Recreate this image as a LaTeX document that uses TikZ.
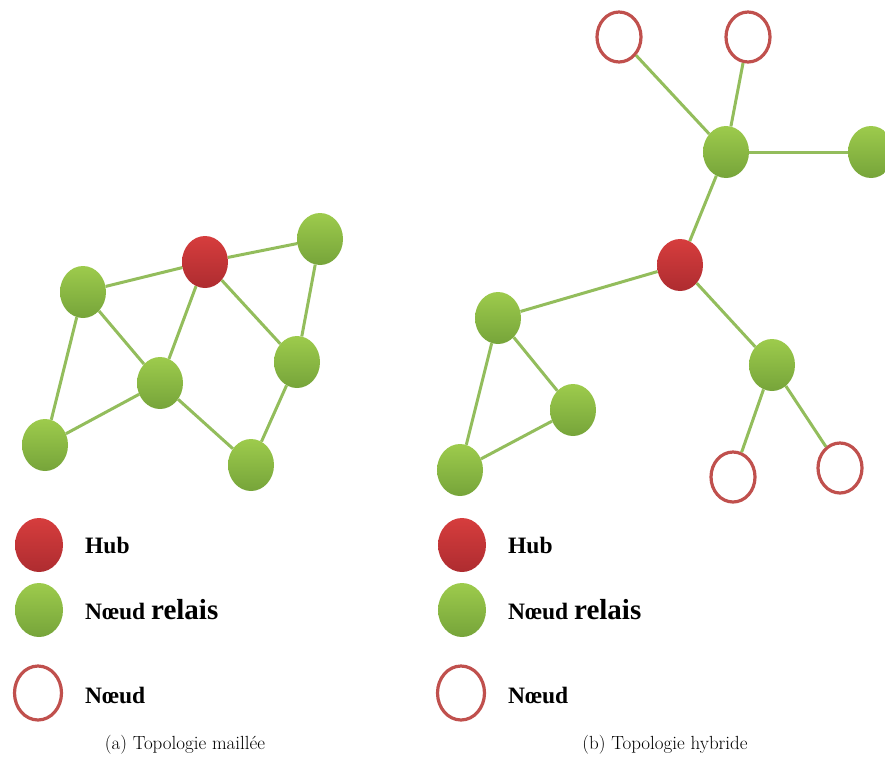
\documentclass[tikz,border=0pt]{standalone}
\usepackage{fontspec}
\newfontfamily\legfont{Liberation Serif}
\usetikzlibrary{shapes.geometric}
\definecolor{edgegreen}{HTML}{93BD5C}
\definecolor{gtop}{HTML}{9DCB4C}
\definecolor{gbot}{HTML}{76A43A}
\definecolor{rtop}{HTML}{D63D3D}
\definecolor{rbot}{HTML}{AE2C30}
\definecolor{ring}{HTML}{C0504D}
\tikzset{
  base/.style={ellipse, inner sep=0pt, minimum width=46pt, minimum height=52pt},
  relay/.style={base, top color=gtop, bottom color=gbot, draw=none},
  hub/.style={base, top color=rtop, bottom color=rbot, draw=none},
  leaf/.style={base, draw=ring, line width=3.2pt, fill=white, minimum width=44pt, minimum height=50pt},
  link/.style={draw=edgegreen, line width=3pt},
  legtext/.style={anchor=west, inner sep=0pt, font=\legfont\bfseries\fontsize{23.5}{25}\selectfont},
  caption/.style={font=\fontsize{19}{22}\selectfont, inner sep=0pt}
}
\begin{document}
\begin{tikzpicture}[x=1pt,y=-1pt]
\useasboundingbox (0,0) rectangle (885,766);
\clip (0,0) rectangle (885,766);
% ---- (a) mesh ----
\node[relay] (a1) at (83,292) {};
\node[hub]   (ah) at (205,262) {};
\node[relay] (a2) at (320,239) {};
\node[relay] (a3) at (160,383) {};
\node[relay] (a4) at (297,362) {};
\node[relay] (a5) at (45,445) {};
\node[relay] (a6) at (251,465) {};
\draw[link] (a1) -- (ah);
\draw[link] (ah) -- (a2);
\draw[link] (a1) -- (a3);
\draw[link] (a1) -- (a5);
\draw[link] (ah) -- (a3);
\draw[link] (ah) -- (a4);
\draw[link] (a2) -- (a4);
\draw[link] (a3) -- (a5);
\draw[link] (a3) -- (a6);
\draw[link] (a4) -- (a6);
% ---- (b) hybrid ----
\node[leaf]  (bo1) at (619,37) {};
\node[leaf]  (bo2) at (748,37) {};
\node[relay] (bg1) at (726,152) {};
\node[relay] (bg0) at (871,152) {};
\node[hub]   (bh)  at (680,265) {};
\node[relay] (bg2) at (498,318) {};
\node[relay] (bg3) at (772,365) {};
\node[relay] (bg4) at (573,410) {};
\node[relay] (bg5) at (460,470) {};
\node[leaf]  (bo3) at (733,477) {};
\node[leaf]  (bo4) at (840,468) {};
\draw[link] (bo1) -- (bg1);
\draw[link] (bo2) -- (bg1);
\draw[link] (bg1) -- (bg0);
\draw[link] (bg1) -- (bh);
\draw[link] (bh) -- (bg2);
\draw[link] (bh) -- (bg3);
\draw[link] (bg2) -- (bg4);
\draw[link] (bg2) -- (bg5);
\draw[link] (bg4) -- (bg5);
\draw[link] (bg3) -- (bo3);
\draw[link] (bg3) -- (bo4);
% ---- legends ----
\node[hub, minimum width=48pt, minimum height=54pt] (lha) at (39,545) {};
\node[relay, minimum width=48pt, minimum height=54pt] (lra) at (39,610) {};
\node[leaf, minimum width=47pt, minimum height=54pt] (lla) at (38,693) {};
\node[legtext] (tha) at (85,545) {Hub};
\node[legtext] (tra) at (85,610) {Nœud {\fontsize{29}{31}\selectfont relais}};
\node[legtext] (tla) at (85,695) {Nœud};
\node[hub, minimum width=48pt, minimum height=54pt] (lhb) at (462,545) {};
\node[relay, minimum width=48pt, minimum height=54pt] (lrb) at (462,610) {};
\node[leaf, minimum width=47pt, minimum height=54pt] (llb) at (461,693) {};
\node[legtext] (thb) at (508,545) {Hub};
\node[legtext] (trb) at (508,610) {Nœud {\fontsize{29}{31}\selectfont relais}};
\node[legtext] (tlb) at (508,695) {Nœud};
% ---- captions ----
\node[caption] (ca) at (185,745) {(a) Topologie maillée};
\node[caption] (cb) at (665,745) {(b) Topologie hybride};
\end{tikzpicture}
\end{document}
